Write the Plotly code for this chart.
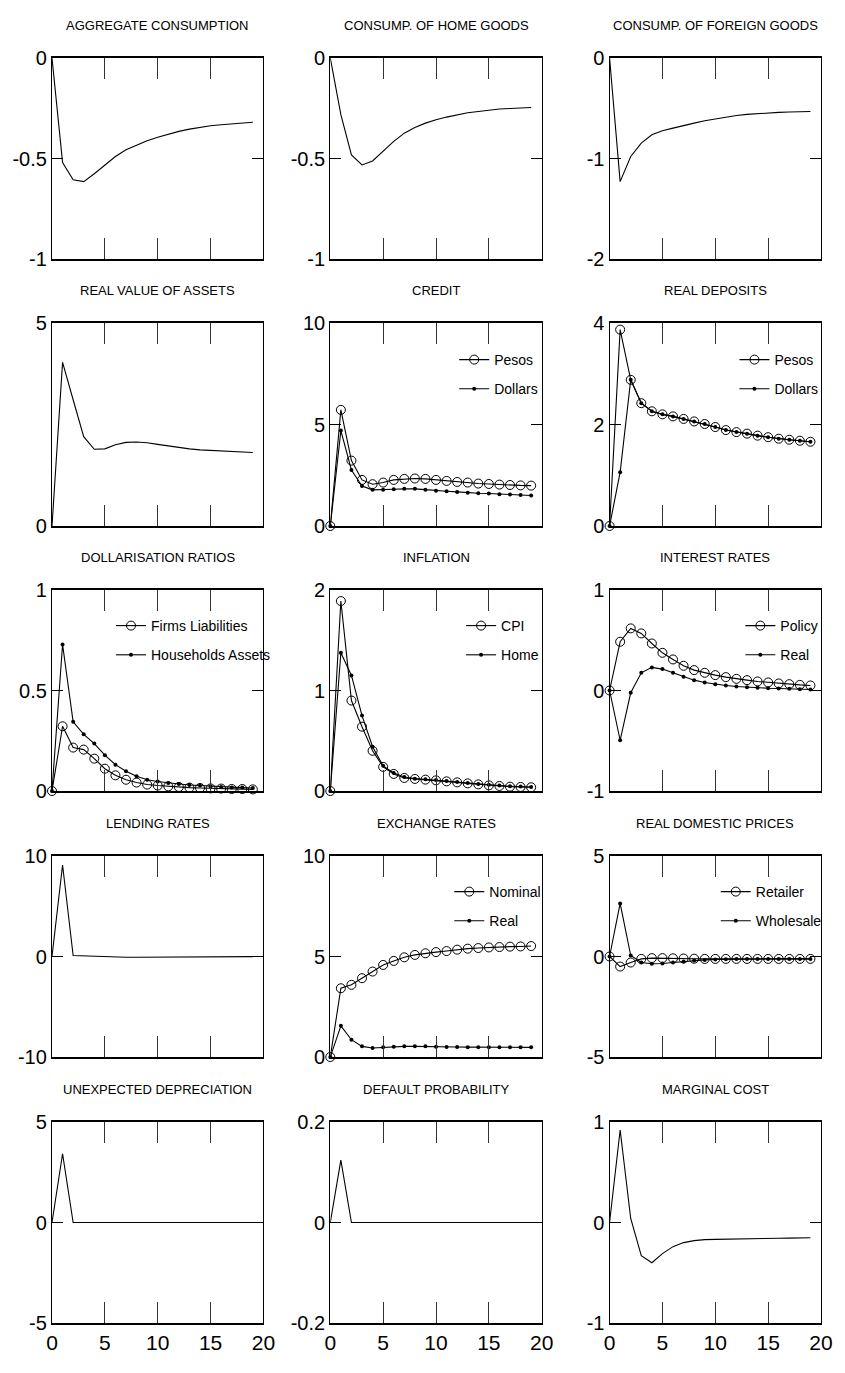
import plotly.graph_objects as go

# ---------------- data ----------------
periods = list(range(20))

agg_consumption = [0, -0.52, -0.606, -0.615, -0.576, -0.535, -0.49, -0.457, -0.434, -0.412,
                   -0.394, -0.379, -0.365, -0.354, -0.344, -0.337, -0.332, -0.327, -0.324, -0.32]
cons_home = [0, -0.282, -0.482, -0.532, -0.512, -0.465, -0.415, -0.374, -0.346, -0.324,
             -0.307, -0.294, -0.282, -0.272, -0.266, -0.259, -0.254, -0.251, -0.248, -0.246]
cons_foreign = [0, -1.23, -0.98, -0.847, -0.764, -0.724, -0.698, -0.671, -0.648, -0.625,
                -0.606, -0.588, -0.572, -0.561, -0.552, -0.545, -0.541, -0.538, -0.535, -0.532]
real_assets = [0, 4.03, 3.11, 2.20, 1.89, 1.90, 2.00, 2.06, 2.07, 2.05,
               2.01, 1.97, 1.93, 1.90, 1.875, 1.86, 1.84, 1.83, 1.82, 1.81]
credit_pesos = [0, 5.72, 3.22, 2.27, 2.06, 2.14, 2.27, 2.32, 2.34, 2.32,
                2.27, 2.22, 2.17, 2.14, 2.09, 2.07, 2.04, 2.02, 2.00, 1.99]
credit_dollars = [0, 4.70, 2.76, 1.97, 1.78, 1.78, 1.81, 1.83, 1.83, 1.79,
                  1.74, 1.71, 1.68, 1.64, 1.61, 1.60, 1.56, 1.55, 1.53, 1.50]
deposits_pesos = [0, 3.87, 2.88, 2.42, 2.26, 2.20, 2.16, 2.11, 2.06, 2.01,
                  1.95, 1.89, 1.85, 1.82, 1.78, 1.75, 1.72, 1.70, 1.68, 1.66]
deposits_dollars = [0, 1.06, 2.88, 2.42, 2.26, 2.20, 2.16, 2.11, 2.06, 2.01,
                    1.95, 1.89, 1.85, 1.82, 1.78, 1.75, 1.72, 1.70, 1.68, 1.66]
dollar_firms = [0, 0.322, 0.216, 0.206, 0.161, 0.111, 0.078, 0.056, 0.042, 0.032,
                0.027, 0.023, 0.020, 0.017, 0.015, 0.013, 0.012, 0.010, 0.010, 0.008]
dollar_households = [0, 0.729, 0.344, 0.282, 0.236, 0.178, 0.131, 0.098, 0.073, 0.056,
                     0.047, 0.040, 0.035, 0.030, 0.027, 0.023, 0.020, 0.018, 0.017, 0.015]
infl_cpi = [0, 1.89, 0.90, 0.64, 0.40, 0.24, 0.17, 0.13, 0.12, 0.113,
            0.106, 0.096, 0.086, 0.076, 0.066, 0.056, 0.050, 0.043, 0.040, 0.037]
infl_home = [0, 1.375, 1.15, 0.75, 0.44, 0.25, 0.18, 0.14, 0.123, 0.116,
             0.110, 0.100, 0.090, 0.080, 0.070, 0.061, 0.054, 0.048, 0.044, 0.040]
rate_policy = [0, 0.485, 0.618, 0.568, 0.468, 0.375, 0.309, 0.246, 0.203, 0.176,
               0.153, 0.133, 0.116, 0.103, 0.090, 0.080, 0.070, 0.063, 0.056, 0.050]
rate_real = [0, -0.495, -0.023, 0.176, 0.230, 0.213, 0.176, 0.136, 0.103, 0.080,
             0.063, 0.050, 0.040, 0.033, 0.027, 0.023, 0.020, 0.017, 0.013, 0.010]
lending_rates = [0, 9.1, 0.1, 0.05, 0, -0.05, -0.08, -0.08, -0.07, -0.06,
                 -0.05, -0.04, -0.03, -0.03, -0.02, -0.02, -0.01, -0.01, -0.01, -0.01]
fx_nominal = [0, 3.42, 3.59, 3.92, 4.25, 4.58, 4.78, 4.96, 5.08, 5.16,
              5.22, 5.27, 5.34, 5.39, 5.42, 5.45, 5.47, 5.49, 5.50, 5.52]
fx_real = [0, 1.55, 0.86, 0.53, 0.45, 0.48, 0.51, 0.53, 0.53, 0.53,
           0.51, 0.50, 0.50, 0.49, 0.49, 0.49, 0.48, 0.48, 0.48, 0.48]
price_retailer = [0, -0.50, -0.30, -0.12, -0.08, -0.08, -0.09, -0.10, -0.11, -0.12,
                  -0.12, -0.12, -0.12, -0.12, -0.12, -0.12, -0.12, -0.12, -0.12, -0.12]
price_wholesale = [0, 2.64, 0.05, -0.30, -0.36, -0.35, -0.30, -0.25, -0.20, -0.17,
                   -0.15, -0.14, -0.13, -0.13, -0.12, -0.12, -0.12, -0.12, -0.12, -0.12]
unexp_depreciation = [0, 3.42, 0, 0, 0, 0, 0, 0, 0, 0, 0, 0, 0, 0, 0, 0, 0, 0, 0, 0]
default_prob = [0, 0.124, 0, 0, 0, 0, 0, 0, 0, 0, 0, 0, 0, 0, 0, 0, 0, 0, 0, 0]
marginal_cost = [0, 0.92, 0.04, -0.33, -0.40, -0.31, -0.24, -0.20, -0.18, -0.17,
                 -0.168, -0.165, -0.163, -0.161, -0.159, -0.157, -0.156, -0.155, -0.153, -0.152]

titles = ["AGGREGATE CONSUMPTION", "CONSUMP. OF HOME GOODS", "CONSUMP. OF FOREIGN GOODS",
          "REAL VALUE OF ASSETS", "CREDIT", "REAL DEPOSITS",
          "DOLLARISATION RATIOS", "INFLATION", "INTEREST RATES",
          "LENDING RATES", "EXCHANGE RATES", "REAL DOMESTIC PRICES",
          "UNEXPECTED DEPRECIATION", "DEFAULT PROBABILITY", "MARGINAL COST"]

y_tick_vals = [[-1, -0.5, 0], [-1, -0.5, 0], [-2, -1, 0],
               [0, 5], [0, 5, 10], [0, 2, 4],
               [0, 0.5, 1], [0, 1, 2], [-1, 0, 1],
               [-10, 0, 10], [0, 5, 10], [-5, 0, 5],
               [-5, 0, 5], [-0.2, 0, 0.2], [-1, 0, 1]]
y_tick_text = [["-1", "-0.5", "0"], ["-1", "-0.5", "0"], ["-2", "-1", "0"],
               ["0", "5"], ["0", "5", "10"], ["0", "2", "4"],
               ["0", "0.5", "1"], ["0", "1", "2"], ["-1", "0", "1"],
               ["-10", "0", "10"], ["0", "5", "10"], ["-5", "0", "5"],
               ["-5", "0", "5"], ["-0.2", "0", "0.2"], ["-1", "0", "1"]]
x_tick_vals = [0, 5, 10, 15, 20]
x_tick_text = ["0", "5", "10", "15", "20"]

# series per panel: (name, values, kind)  kind: 'line' | 'circle' | 'dot'
panels = [
    [(None, agg_consumption, "line")],
    [(None, cons_home, "line")],
    [(None, cons_foreign, "line")],
    [(None, real_assets, "line")],
    [("Pesos", credit_pesos, "circle"), ("Dollars", credit_dollars, "dot")],
    [("Pesos", deposits_pesos, "circle"), ("Dollars", deposits_dollars, "dot")],
    [("Firms Liabilities", dollar_firms, "circle"), ("Households Assets", dollar_households, "dot")],
    [("CPI", infl_cpi, "circle"), ("Home", infl_home, "dot")],
    [("Policy", rate_policy, "circle"), ("Real", rate_real, "dot")],
    [(None, lending_rates, "line")],
    [("Nominal", fx_nominal, "circle"), ("Real", fx_real, "dot")],
    [("Retailer", price_retailer, "circle"), ("Wholesale", price_wholesale, "dot")],
    [(None, unexp_depreciation, "line")],
    [(None, default_prob, "line")],
    [(None, marginal_cost, "line")],
]

# ---------------- layout geometry (pixels) ----------------
W, H = 845, 1373
ML, MR, MT, MB = 50, 13, 58, 50
PW, PH = W - ML - MR, H - MT - MB
col_px = [(50, 265), (333, 548), (617, 832)]
row_px = [(58, 259), (323, 526), (590, 791), (856, 1057), (1122, 1323)]
# legend anchor (x so that label text starts at reference position, legend top y) in px
legend_px = {4: (459, 344), 5: (744, 344), 6: (110, 610), 7: (466, 610),
             8: (750, 610), 10: (454, 876), 11: (725, 876)}

def px_x(p):
    return (p - ML) / PW

def px_y(p):
    return 1 - (p - MT) / PH

FONT = "Liberation Sans, Arial, Helvetica, sans-serif"

fig = go.Figure()
layout = dict(
    width=W, height=H,
    margin=dict(l=ML, r=MR, t=MT, b=MB, pad=0),
    paper_bgcolor="white", plot_bgcolor="white",
    font=dict(family=FONT, color="black", size=20),
    showlegend=True,
    annotations=[],
)

leg_count = 0
for i, series in enumerate(panels):
    r, c = divmod(i, 3)
    ax = "" if i == 0 else str(i + 1)
    xd = [px_x(col_px[c][0]), px_x(col_px[c][1])]
    yd = [px_y(row_px[r][1]), px_y(row_px[r][0])]
    yv = y_tick_vals[i]
    layout["xaxis" + ax] = dict(
        domain=xd, anchor="y" + ax, range=[0, 20],
        tickvals=x_tick_vals, ticktext=x_tick_text, showticklabels=(r == 4),
        ticks="inside", ticklen=21, tickwidth=1, tickcolor="#333",
        showline=True, linecolor="black", linewidth=2, mirror="ticks",
        showgrid=False, zeroline=False, tickfont=dict(size=21),
    )
    layout["yaxis" + ax] = dict(
        domain=yd, anchor="x" + ax, range=[yv[0], yv[-1]],
        tickvals=yv, ticktext=y_tick_text[i],
        ticks="inside", ticklen=11, tickwidth=1, tickcolor="black",
        showline=True, linecolor="black", linewidth=1.3, mirror="ticks",
        showgrid=False, zeroline=False, tickfont=dict(size=20),
    )
    layout["annotations"].append(dict(
        text=titles[i], x=(xd[0] + xd[1]) / 2, y=yd[1], xref="paper", yref="paper",
        xanchor="center", yanchor="middle", yshift=33, showarrow=False,
        font=dict(size=13, family=FONT, color="black"),
    ))
    legname = None
    if i in legend_px:
        leg_count += 1
        legname = "legend" if leg_count == 1 else "legend%d" % leg_count
        lx, ly = legend_px[i]
        layout[legname] = dict(
            x=px_x(lx), y=px_y(ly), xanchor="left", yanchor="top",
            bgcolor="rgba(0,0,0,0)", borderwidth=0, itemwidth=30,
            font=dict(size=14, family=FONT, color="black"),
            tracegroupgap=8, traceorder="grouped",
        )
    for j, (name, vals, kind) in enumerate(series):
        tr = dict(x=periods, y=vals, xaxis="x" + ax, yaxis="y" + ax,
                  line=dict(color="black", width=1.1), cliponaxis=False)
        if kind == "line":
            tr.update(mode="lines", showlegend=False)
        elif kind == "circle":
            tr.update(mode="lines+markers",
                      marker=dict(symbol="circle-open", size=9, color="black",
                                  line=dict(width=1, color="black")))
        else:
            tr.update(mode="lines+markers",
                      marker=dict(symbol="circle", size=4, color="black"))
        if name is not None:
            tr.update(name=name, showlegend=True, legend=legname,
                      legendgroup="p%d_%d" % (i, j))
        fig.add_trace(go.Scatter(**tr))

fig.update_layout(**layout)
fig.write_html("out.html")
